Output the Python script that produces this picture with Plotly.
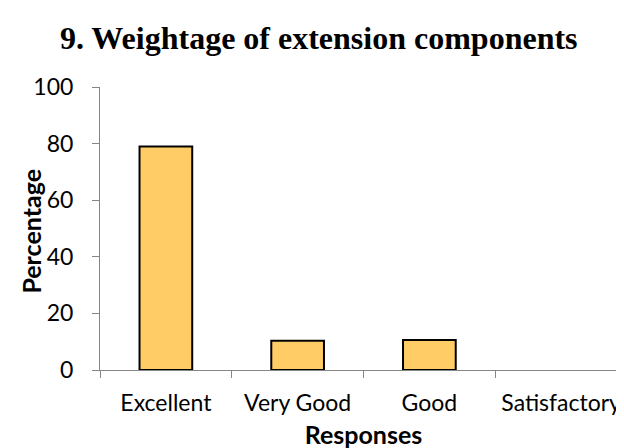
import plotly.graph_objects as go

categories = ["Excellent", "Very Good", "Good", "Satisfactory"]
values = [79, 10.3, 10.6, 0]
y_ticks = [0, 20, 40, 60, 80, 100]

fig = go.Figure(go.Bar(
    x=categories, y=values, width=0.4,
    marker=dict(color="#FFCC66", line=dict(color="#000000", width=[2, 2, 2, 0])),
))

tick_font = dict(family="Lato, Carlito, sans-serif", size=23, color="#000000")
title_font = dict(family="Lato, Carlito, sans-serif", size=25, color="#000000")
fig.update_layout(
    width=624, height=448,
    margin=dict(l=92, r=5, t=79, b=86, autoexpand=False),
    plot_bgcolor="white", paper_bgcolor="white",
    showlegend=False,
    title=dict(text="<b>9. Weightage of extension components</b>",
               font=dict(family="Liberation Serif, Times New Roman, serif", size=32, color="#000000"),
               x=0.498, xanchor="center", xref="container",
               y=1 - 30 / 448, yanchor="middle", yref="container"),
    annotations=[dict(text="<b>Percentage</b>", textangle=-90, font=title_font,
                      xref="paper", yref="paper", x=(23 - 92) / 527, y=0.489,
                      xanchor="center", yanchor="middle", showarrow=False)],
)
fig.update_xaxes(
    range=[-0.5, 3.5], showline=True, linecolor="#868686", linewidth=1,
    ticks="outside", tickson="boundaries", ticklen=7, tickcolor="#868686",
    tickfont=tick_font, showgrid=False, ticklabelstandoff=12, tickangle=0,
    automargin=False,
    title=dict(text="<b>Responses</b>", font=title_font, standoff=11),
)
fig.update_yaxes(
    range=[0, 100], tickvals=y_ticks, showline=True, linecolor="#868686", linewidth=1,
    ticks="outside", ticklen=7, tickcolor="#868686", tickfont=tick_font,
    showgrid=False, zeroline=False, ticklabelstandoff=14, automargin=False,
)
fig.write_html("out.html")
